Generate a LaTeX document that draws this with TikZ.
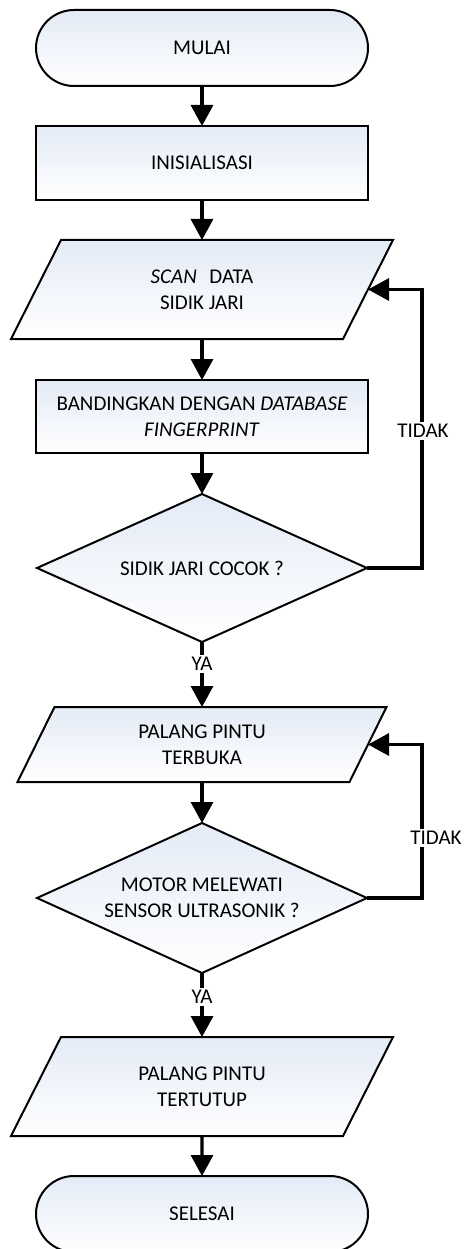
\documentclass[tikz,border=0pt]{standalone}
\usepackage{fontspec}
\setmainfont{Carlito}
\usetikzlibrary{shapes.misc,shapes.geometric,arrows.meta,backgrounds,calc}

\definecolor{boxtop}{RGB}{228,235,246}

\begin{document}
\begin{tikzpicture}[x=1pt,y=-1pt,
  every node/.style={font=\fontsize{21}{26}\selectfont, align=center},
  boxfill/.style={top color=boxtop, bottom color=white},
  outline/.style={draw=black, line width=2pt, boxfill},
  terminal/.style={rounded rectangle, outline, minimum width=332pt,
    minimum height=76pt, inner sep=0pt, outer sep=0pt},
  process/.style={rectangle, outline, minimum width=332pt,
    minimum height=74pt, inner sep=0pt, outer sep=0pt},
  decision/.style={diamond, outline, aspect=2.23, minimum width=330pt,
    minimum height=148pt, inner sep=0pt, outer sep=0pt},
  iobox/.style={rectangle, minimum width=332pt, inner sep=0pt, outer sep=0pt},
  flow/.style={line width=3.3pt, -{Triangle[width=22pt,length=21pt]}},
  lbl/.style={fill=white, inner sep=2pt}
]
\useasboundingbox (0,0) rectangle (463,1249);

% flowchart steps
\node[terminal] (start) at (202,48) {MULAI};
\node[process] (init) at (202,163) {INISIALISASI};
\node[iobox, minimum height=99pt] (scan) at (202,289.5)
  {\textit{SCAN}\hspace{0.6em}DATA\\SIDIK JARI};
\node[process, minimum height=73pt] (comp) at (202,416.5)
  {BANDINGKAN DENGAN \textit{DATABASE}\\\textit{FINGERPRINT}};
\node[decision] (dec1) at (202,568) {SIDIK JARI COCOK ?};
\node[iobox, minimum height=75pt] (open) at (202,744.5)
  {PALANG PINTU\\TERBUKA};
\node[decision, minimum height=150pt] (dec2) at (202,898)
  {MOTOR MELEWATI\\SENSOR ULTRASONIK ?};
\node[iobox, minimum height=99pt] (close) at (202,1086.5)
  {PALANG PINTU\\TERTUTUP};
\node[terminal] (stop) at (202,1214) {SELESAI};

% input/output parallelograms behind their texts
\begin{scope}[on background layer]
  \foreach \n/\d in {scan/25, open/18.5, close/25} {
    \path[outline] ($(\n.north west)+(\d,0)$) -- ($(\n.north east)+(\d,0)$)
      -- ($(\n.south east)+(-\d,0)$) -- ($(\n.south west)+(-\d,0)$) -- cycle;
  }
\end{scope}

% main flow
\draw[flow] (start) -- (init);
\draw[flow] (init) -- (scan);
\draw[flow] (scan) -- (comp);
\draw[flow] (comp) -- (dec1);
\draw[flow] (dec1.south) -- (open.north);
\draw[flow] (open) -- (dec2);
\draw[flow] (dec2.south) -- (close.north);
\draw[flow] (close) -- (stop);

% loops back on "TIDAK"
\draw[flow] (dec1.east) -- ++(55,0) |- (scan.east);
\draw[flow] (dec2.east) -- ++(55,0) |- (open.east);

% branch labels
\node[lbl] (ya1) at (202,664) {YA};
\node[lbl] (ya2) at (202,997) {YA};
\node[lbl] (no1) at (423,431) {TIDAK};
\node[lbl] (no2) at (436,838) {TIDAK};
\end{tikzpicture}
\end{document}
